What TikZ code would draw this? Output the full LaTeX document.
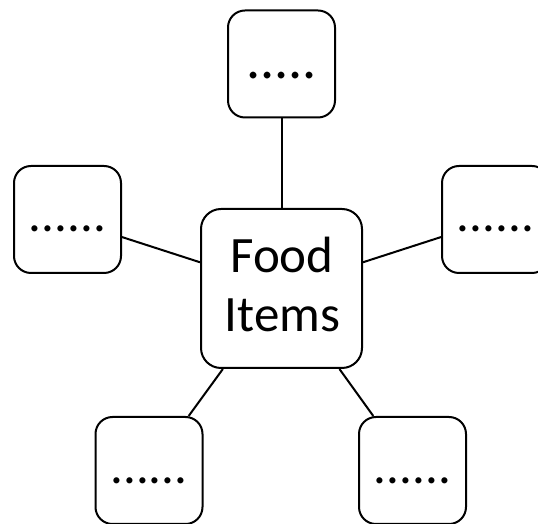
\documentclass[tikz,border=0pt]{standalone}
\usepackage{fontspec}
\setmainfont{Carlito}
\begin{document}
\begin{tikzpicture}[x=1pt,y=1pt,
  box/.style={draw=black, line width=2pt, rounded corners=17pt, fill=white,
    minimum width=107pt, minimum height=107pt, inner sep=0pt, text depth=0pt,
    font=\fontsize{51}{59}\selectfont},
  hub/.style={draw=black, line width=2pt, rounded corners=20pt, fill=white,
    minimum width=161pt, minimum height=159pt, inner sep=0pt},
  word/.style={anchor=base, inner sep=0pt, font=\fontsize{51}{59}\selectfont},
  link/.style={draw=black, line width=2pt}]
\useasboundingbox (0,0) rectangle (538,524);
% boxes
\node[hub] (c) at (281.5,235.5) {};
\node[box, text height=30pt, font=\fontsize{56}{64}\selectfont] (t) at (281.5,460) {.....};
\node[box, text height=25pt] (l) at (67.5,304.5) {......};
\node[box, text height=25pt] (r) at (495.5,304.5) {......};
\node[box, text height=27pt] (bl) at (149,53.5) {......};
\node[box, text height=27pt] (br) at (412.5,53.5) {......};
% text of hub
\node[word] (food) at (282,251) {Food};
\node[word] (items) at (282.5,192) {Items};
% connectors
\draw[link] (c) -- (t);
\draw[link] (c) -- (l);
\draw[link] (c) -- (r);
\draw[link] (c) -- (bl);
\draw[link] (c) -- (br);
\end{tikzpicture}
\end{document}
